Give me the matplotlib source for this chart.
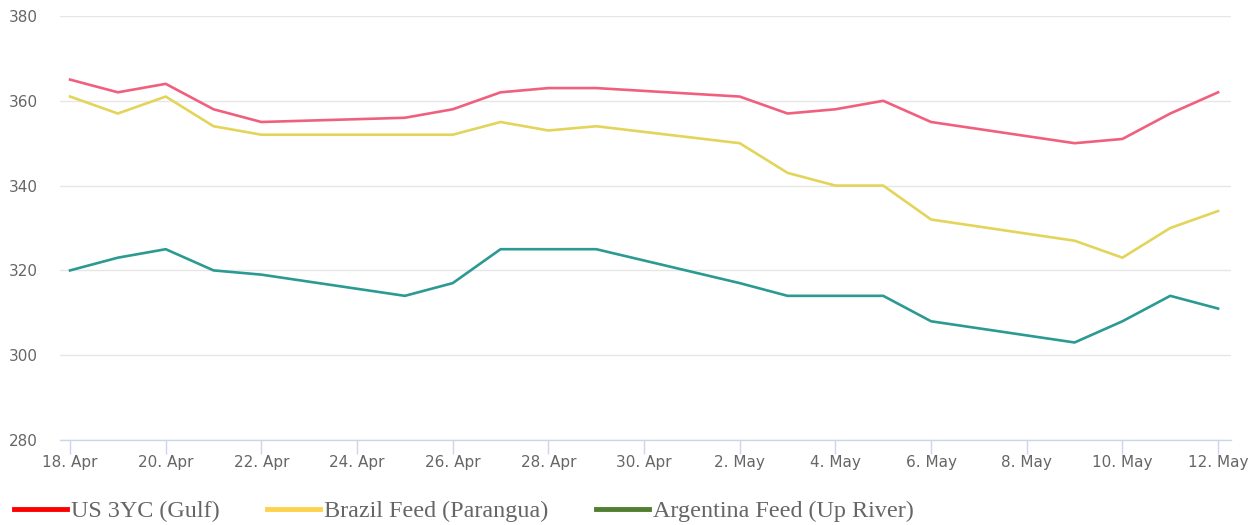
import matplotlib
matplotlib.use("Agg")
import matplotlib.pyplot as plt
import matplotlib.dates as mdates
from matplotlib.lines import Line2D
import datetime as dt

dates = ["2022-04-18", "2022-04-19", "2022-04-20", "2022-04-21", "2022-04-22",
         "2022-04-25", "2022-04-26", "2022-04-27", "2022-04-28", "2022-04-29",
         "2022-05-02", "2022-05-03", "2022-05-04", "2022-05-05", "2022-05-06",
         "2022-05-09", "2022-05-10", "2022-05-11", "2022-05-12"]
us_gulf = [365, 362, 364, 358, 355, 356, 358, 362, 363, 363,
           361, 357, 358, 360, 355, 350, 351, 357, 362]
brazil = [361, 357, 361, 354, 352, 352, 352, 355, 353, 354,
          350, 343, 340, 340, 332, 327, 323, 330, 334]
argentina = [320, 323, 325, 320, 319, 314, 317, 325, 325, 325,
             317, 314, 314, 314, 308, 303, 308, 314, 311]
labels = ["US 3YC (Gulf)", "Brazil Feed (Parangua)", "Argentina Feed (Up River)"]
line_colors = ["#f0607e", "#e3d45a", "#2a9a92"]
legend_colors = ["#ff0000", "#ffd24d", "#4f7f2f"]

x = [dt.datetime.strptime(d, "%Y-%m-%d") for d in dates]

fig = plt.figure(figsize=(12.53, 5.25), dpi=100)
W, H = 1253, 525
ax = fig.add_axes([60 / W, 1 - 440 / H, (1231 - 60) / W, (440 - 16) / H])

for series, c in zip([us_gulf, brazil, argentina], line_colors):
    ax.plot(x, series, color=c, lw=1.9, solid_joinstyle="round")

ax.set_ylim(280, 380)
ax.set_yticks([280, 300, 320, 340, 360, 380])
pad_l = dt.timedelta(days=0.21)
pad_r = dt.timedelta(days=0.27)
ax.set_xlim(x[0] - pad_l, x[-1] + pad_r)

ticks = [x[0] + dt.timedelta(days=2 * i) for i in range(13)]
ax.set_xticks(ticks)
ax.set_xticklabels([f"{t.day}. {t.strftime('%b')}" for t in ticks])

ax.grid(axis="y", color="#e6e6e6", lw=1)
ax.set_axisbelow(True)
for s in ["top", "right", "left"]:
    ax.spines[s].set_visible(False)
ax.spines["bottom"].set_color("#ccd6eb")
ax.spines["bottom"].set_linewidth(1)
ax.tick_params(axis="x", colors="#ccd6eb", length=10, width=1, labelcolor="#666666",
               labelsize=11, pad=1)
ax.tick_params(axis="y", length=0, labelcolor="#666666", labelsize=11, pad=16)

handles = [Line2D([], [], color=c, lw=3.5) for c in legend_colors]
leg = fig.legend(handles, labels, loc="center left", bbox_to_anchor=(14 / W, 1 - 511 / H),
                 ncol=3, frameon=False, handlelength=2.2, handletextpad=0.17,
                 columnspacing=1.95, borderpad=0, borderaxespad=0,
                 prop={"family": "Liberation Serif", "size": 17.4})
for t in leg.get_texts():
    t.set_color("#666666")

fig.savefig("out.png", dpi=100, facecolor="white")
